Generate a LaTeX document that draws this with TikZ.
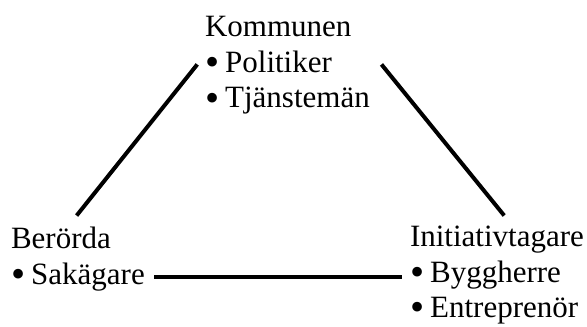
\documentclass[tikz,border=0pt]{standalone}
\usepackage{fontspec}
\setmainfont{Liberation Serif}
\usepackage{graphicx}
\usepackage{tikz}
\newcommand{\punkt}{\makebox[0.4em][l]{\raisebox{-0.11em}{\scalebox{1.3}{\textbullet}}}}

\begin{document}
\begin{tikzpicture}[x=1pt,y=-1pt,line cap=rect,
	grupp/.style={inner sep=0, outer sep=0, anchor=north west, align=left,
		font=\fontsize{31pt}{35.5pt}\selectfont},
	band/.style={line width=4.0pt, custcol_0_0_0}]
	\definecolor{custcol_0_0_0}{RGB}{0, 0, 0}
	\useasboundingbox (0.0,0.0) rectangle (587.0,327.0);
	% grupper
	\node[grupp] (kommunen) at (205.0,16.5) {Kommunen\\\punkt{} Politiker\\\punkt{} Tjänstemän};
	\node[grupp] (berorda) at (11.0,227.0) {Berörda\\\punkt{} Sakägare};
	\node[grupp] (initiativ) at (410.0,226.0) {Initiativtagare\\\punkt{} Byggherre\\\punkt{} Entreprenör};
	% relationer
	\path ([xshift=-10pt,yshift=-51pt]initiativ.north west) coordinate (hstart);
	\draw [band] ([xshift=-9pt,yshift=-49.5pt]kommunen.north west) -- ([yshift=13pt]berorda.north);
	\draw [band] ([xshift=13pt,yshift=-49.5pt]kommunen.north east) -- ([xshift=6pt,yshift=12pt]initiativ.north);
	\draw [band, shorten >=11pt] (hstart) -- (hstart -| berorda.east);
\end{tikzpicture}
\end{document}
